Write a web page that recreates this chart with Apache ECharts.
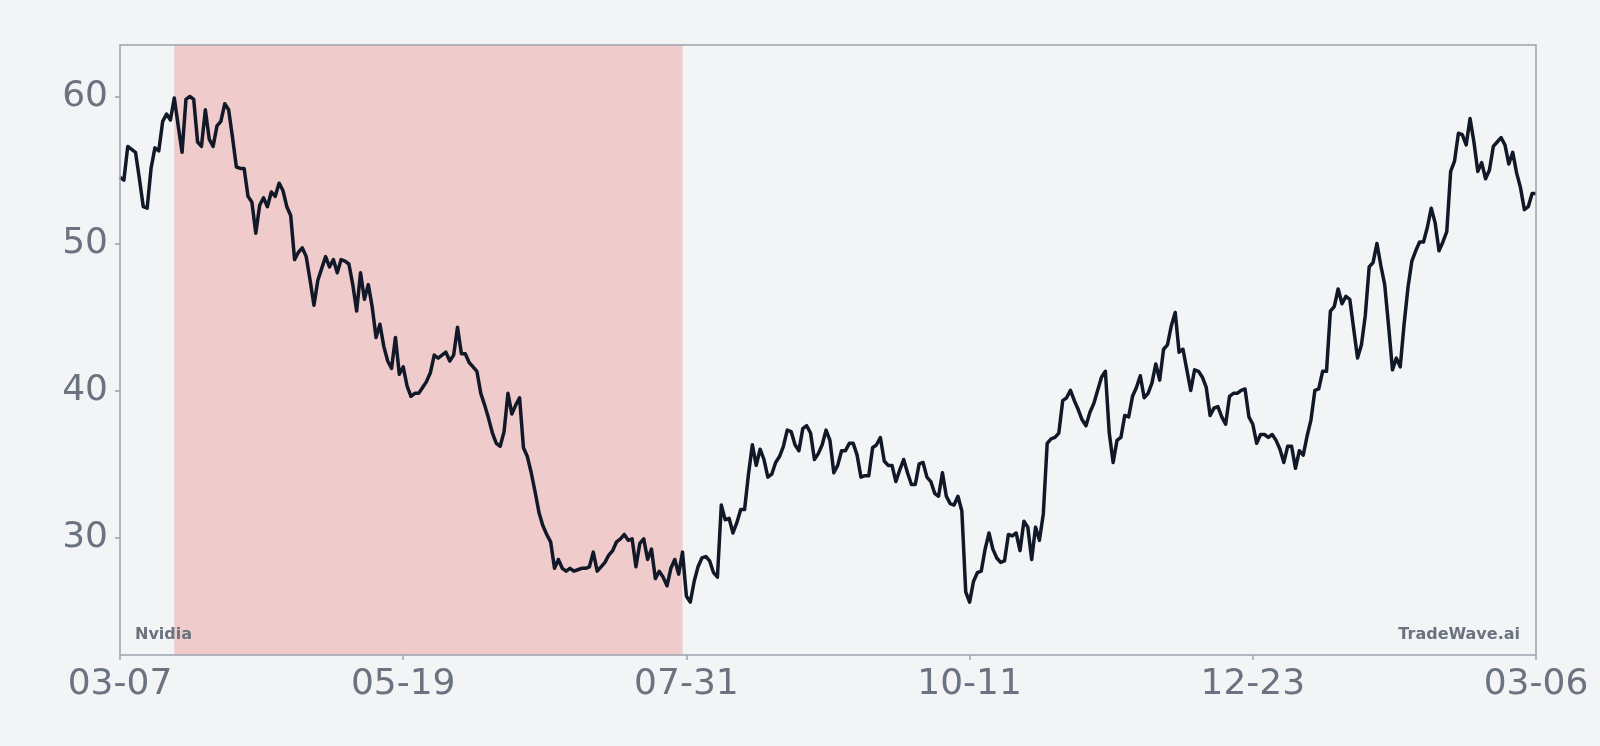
<!DOCTYPE html>
<html lang="en">
<head>
  <meta charset="UTF-8">
  <title>Nvidia</title>
  <script src="https://cdn.jsdelivr.net/npm/echarts@6.0.0/dist/echarts.min.js"></script>
  <style>
    html, body { margin: 0; padding: 0; background: #f3f4f6; }
    #main { width: 1600px; height: 746px; }
  </style>
</head>
<body>
  <div id="main"></div>
  <script>
    // x axis: day number from 03-07, ticks every 73 days
    const tickDays = [0, 73, 146, 219, 292, 365];
    const tickLabels = ['03-07', '05-19', '07-31', '10-11', '12-23', '03-06'];
    const yTicks = [30, 40, 50, 60];
    // shaded period (day numbers)
    const shadeDays = [14, 145];

    // daily close, one value per day from 03-07
    const prices = [
      54.5, 54.3, 56.6, 56.4, 56.2, 54.4, 52.5, 52.4, 55.1, 56.5,
      56.3, 58.3, 58.8, 58.4, 59.9, 58.0, 56.2, 59.8, 60.0, 59.8,
      56.9, 56.6, 59.1, 57.1, 56.6, 58.0, 58.3, 59.5, 59.1, 57.2,
      55.2, 55.1, 55.1, 53.2, 52.8, 50.7, 52.6, 53.1, 52.5, 53.5,
      53.2, 54.1, 53.6, 52.5, 51.9, 48.9, 49.4, 49.7, 49.1, 47.5,
      45.8, 47.5, 48.3, 49.1, 48.4, 48.9, 48.0, 48.9, 48.8, 48.6,
      47.2, 45.4, 48.0, 46.2, 47.2, 45.7, 43.6, 44.5, 43.0, 42.0,
      41.5, 43.6, 41.1, 41.6, 40.3, 39.6, 39.8, 39.8, 40.2, 40.6,
      41.2, 42.4, 42.2, 42.4, 42.6, 42.0, 42.4, 44.3, 42.5, 42.5,
      41.9, 41.6, 41.3, 39.8, 39.0, 38.1, 37.1, 36.4, 36.2, 37.2,
      39.8, 38.4, 39.0, 39.5, 36.1, 35.5, 34.4, 33.1, 31.7, 30.8,
      30.2, 29.7, 27.9, 28.5, 27.9, 27.7, 27.9, 27.7, 27.8, 27.9,
      27.9, 28.0, 29.0, 27.7, 28.0, 28.3, 28.8, 29.1, 29.7, 29.9,
      30.2, 29.8, 29.9, 28.0, 29.6, 29.9, 28.5, 29.2, 27.2, 27.7,
      27.3, 26.7, 27.9, 28.5, 27.5, 29.0, 26.0, 25.6, 27.0, 28.0,
      28.6, 28.7, 28.4, 27.6, 27.3, 32.2, 31.2, 31.3, 30.3, 31.0,
      31.9, 31.9, 34.3, 36.3, 34.9, 36.0, 35.3, 34.1, 34.3, 35.1,
      35.5, 36.2, 37.3, 37.2, 36.3, 35.9, 37.4, 37.6, 37.1, 35.3,
      35.7, 36.3, 37.3, 36.6, 34.4, 34.9, 35.9, 35.9, 36.4, 36.4,
      35.6, 34.1, 34.2, 34.2, 36.1, 36.3, 36.8, 35.2, 34.9, 34.9,
      33.8, 34.6, 35.3, 34.4, 33.6, 33.6, 35.0, 35.1, 34.1, 33.8,
      33.0, 32.8, 34.4, 32.8, 32.3, 32.2, 32.8, 31.8, 26.3, 25.6,
      27.0, 27.6, 27.7, 29.2, 30.3, 29.2, 28.6, 28.3, 28.4, 30.2,
      30.1, 30.3, 29.1, 31.1, 30.7, 28.5, 30.7, 29.8, 31.6, 36.4,
      36.7, 36.8, 37.1, 39.3, 39.5, 40.0, 39.3, 38.7, 38.0, 37.6,
      38.5, 39.1, 40.0, 40.9, 41.3, 37.1, 35.1, 36.6, 36.8, 38.3,
      38.2, 39.6, 40.2, 41.0, 39.5, 39.8, 40.5, 41.8, 40.7, 42.8,
      43.1, 44.4, 45.3, 42.6, 42.8, 41.4, 40.0, 41.4, 41.3, 40.9,
      40.2, 38.3, 38.8, 38.9, 38.2, 37.7, 39.6, 39.8, 39.8, 40.0,
      40.1, 38.2, 37.7, 36.4, 37.0, 37.0, 36.8, 37.0, 36.6, 36.0,
      35.1, 36.2, 36.2, 34.7, 35.9, 35.6, 36.9, 38.0, 40.0, 40.1,
      41.3, 41.3, 45.4, 45.7, 46.9, 45.9, 46.4, 46.2, 44.2, 42.2,
      43.1, 45.1, 48.4, 48.7, 50.0, 48.5, 47.2, 44.4, 41.4, 42.2,
      41.6, 44.5, 47.0, 48.8, 49.5, 50.1, 50.1, 51.1, 52.4, 51.4,
      49.5, 50.1, 50.8, 54.9, 55.6, 57.5, 57.4, 56.7, 58.5, 56.9,
      54.9, 55.5, 54.4, 55.0, 56.6, 56.9, 57.2, 56.7, 55.4, 56.2,
      54.8, 53.8, 52.3, 52.5, 53.4, 53.4
    ];

    const labelColor = '#6b7280';
    const frameColor = '#9ca3af';
    const fontFamily = 'DejaVu Sans, sans-serif';

    let myChart = echarts.init(document.getElementById('main'));

    let option = {
      backgroundColor: '#f3f4f6',
      animation: false,
      grid: {
        left: 120, right: 64, top: 45, bottom: 91,
        show: true,
        z: 10,
        backgroundColor: 'transparent',
        borderColor: frameColor,
        borderWidth: 1.5
      },
      xAxis: {
        type: 'value',
        min: tickDays[0],
        max: tickDays[tickDays.length - 1],
        splitLine: { show: false },
        axisLine: { show: false },
        axisTick: {
          show: true, length: 5, customValues: tickDays,
          lineStyle: { color: frameColor, width: 1.5 }
        },
        axisLabel: {
          customValues: tickDays,
          margin: 12,
          color: labelColor,
          fontSize: 36,
          fontFamily: fontFamily,
          formatter: v => tickLabels[tickDays.indexOf(v)]
        }
      },
      yAxis: {
        type: 'value',
        min: 22,
        max: 63.5,
        splitLine: { show: false },
        axisLine: { show: false },
        axisTick: {
          show: true, length: 5, customValues: yTicks,
          lineStyle: { color: frameColor, width: 1.5 }
        },
        axisLabel: {
          customValues: yTicks,
          margin: 12,
          color: labelColor,
          fontSize: 36,
          fontFamily: fontFamily
        }
      },
      graphic: [
        {
          type: 'text', left: 135, top: 627, z: 100,
          style: { text: 'Nvidia', fill: labelColor, font: 'bold 16px DejaVu Sans' }
        },
        {
          type: 'text', right: 80, top: 627, z: 100,
          style: { text: 'TradeWave.ai', fill: labelColor, font: 'bold 16px DejaVu Sans' }
        }
      ],
      series: [
        {
          type: 'line',
          data: prices.map((v, i) => [i, v]),
          showSymbol: false,
          lineStyle: { color: '#111827', width: 3.5, join: 'round' },
          silent: true,
          markArea: {
            silent: true,
            itemStyle: { color: '#f0cbcc' },
            data: [[{ xAxis: shadeDays[0] }, { xAxis: shadeDays[1] }]]
          }
        }
      ]
    };
    myChart.setOption(option);
  </script>
</body>
</html>
